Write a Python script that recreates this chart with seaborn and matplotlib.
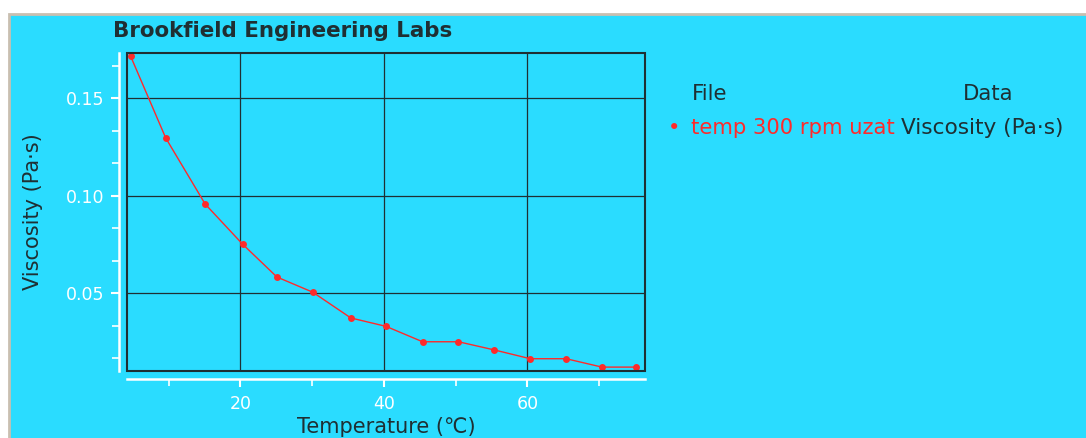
import matplotlib
matplotlib.use("Agg")
import matplotlib.pyplot as plt
from matplotlib.patches import Rectangle
from matplotlib.ticker import MultipleLocator
import pandas as pd
import seaborn as sns

# values
temperature = [4.7, 9.6, 15.1, 20.3, 25.1, 30.1, 35.4, 40.3, 45.4, 50.4, 55.4, 60.4, 65.4, 70.4, 75.1]
viscosity = [0.1715, 0.1295, 0.0956, 0.0751, 0.0582, 0.0504, 0.0372, 0.0329,
             0.0250, 0.0250, 0.0208, 0.0163, 0.0163, 0.0120, 0.0120]
file_name = "temp 300 rpm uzat"
data_name = "Viscosity (Pa\u00b7s)"

BG = "#2adcff"
RED = "#ff2a2a"
DARK = "#1f2f33"

sns.set_style("white")
plt.rcParams['font.family'] = ['DejaVu Sans']

df = pd.DataFrame({"temp": temperature, "visc": viscosity})

fig = plt.figure(figsize=(10.86, 4.38), dpi=100, facecolor="white")
# blue panel with tan border on top/left
fig.patches.append(Rectangle((9 / 1086, -0.01), 1.0, 1 - 14 / 438 + 0.01,
                             transform=fig.transFigure, facecolor=BG,
                             edgecolor="#c9bfb0", linewidth=2, zorder=-5))

ax = fig.add_axes([127 / 1086, 67 / 438, 518 / 1086, 318 / 438])
ax.set_facecolor(BG)

sns.lineplot(data=df, x="temp", y="visc", ax=ax, color=RED, linewidth=1,
             marker="o", markersize=5, markeredgewidth=0, zorder=3)

ax.set_xlim(4.2, 76.4)
ax.set_ylim(0.010, 0.1731)
ax.xaxis.set_major_locator(MultipleLocator(20))
ax.xaxis.set_minor_locator(MultipleLocator(10))
ax.yaxis.set_minor_locator(MultipleLocator(0.05 / 3))
ax.set_yticks([0.05, 0.10, 0.15])
ax.set_yticklabels(["0.05", "0.10", "0.15"])

ax.grid(True, which="major", color=DARK, linewidth=0.9)
ax.set_axisbelow(True)

# detached white axis lines, dark frame around plot area
for side in ["left", "bottom"]:
    ax.spines[side].set_position(("outward", 5.5))
    ax.spines[side].set_color("white")
    ax.spines[side].set_linewidth(1.8)
for side in ["top", "right"]:
    ax.spines[side].set_color(DARK)
    ax.spines[side].set_linewidth(1.2)
ax.add_patch(Rectangle((0, 0), 1, 1, transform=ax.transAxes, fill=False,
                       edgecolor=DARK, linewidth=1.5, clip_on=False, zorder=4))

ax.tick_params(axis="both", which="both", colors="white", direction="out",
               labelsize=12.5, labelcolor="white", bottom=True, left=True)
ax.tick_params(axis="both", which="major", length=6, width=1.5)
ax.tick_params(axis="x", which="major", pad=6)
ax.tick_params(axis="y", which="major", pad=5)
ax.tick_params(axis="both", which="minor", length=5, width=1.2)

ax.set_xlabel("Temperature (\u2103)", fontsize=15, color=DARK, labelpad=3)
ax.set_ylabel(data_name, fontsize=15, color=DARK, labelpad=16)

fig.text(113 / 1086, 1 - 31 / 438, "Brookfield Engineering Labs", fontsize=15.4,
         fontweight="bold", color=DARK, ha="left", va="center")

# legend table
fig.text(692 / 1086, 1 - 94 / 438, "File", fontsize=15.2, color=DARK, va="center")
fig.text(963 / 1086, 1 - 94 / 438, "Data", fontsize=15.2, color=DARK, va="center")
fig.text(674 / 1086, 1 - 128 / 438, "\u2022", fontsize=15.2, color=RED, va="center", ha="center")
fig.text(691 / 1086, 1 - 128 / 438, file_name, fontsize=15.2, color=RED, va="center")
fig.text(901 / 1086, 1 - 128 / 438, data_name, fontsize=15.6, color=DARK, va="center")

fig.savefig("out.png", dpi=100, facecolor=fig.get_facecolor())
